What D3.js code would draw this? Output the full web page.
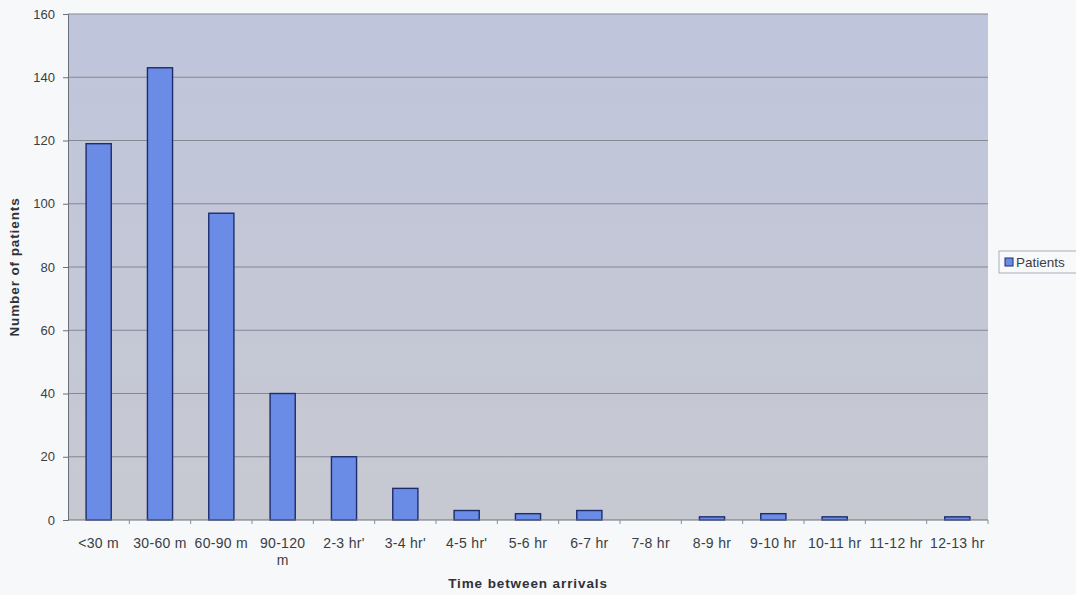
<!DOCTYPE html>
<html>
<head>
<meta charset="utf-8">
<script src="https://cdn.jsdelivr.net/npm/d3@7"></script>
<style>
  html, body { margin: 0; padding: 0; background: #f6f8fa; }
  svg { display: block; font-family: "Liberation Sans", Arial, sans-serif; }
</style>
</head>
<body>
<svg id="chart" width="1076" height="595"></svg>
<script>
// Inter-arrival times and patient counts
const categories = ["<30 m", "30-60 m", "60-90 m", "90-120 m", "2-3 hr'", "3-4 hr'", "4-5 hr'",
  "5-6 hr", "6-7 hr", "7-8 hr", "8-9 hr", "9-10 hr", "10-11 hr", "11-12 hr", "12-13 hr"];
const patients = [119, 143, 97, 40, 20, 10, 3, 2, 3, 0, 1, 2, 1, 0, 1];
const yTicks = [0, 20, 40, 60, 80, 100, 120, 140, 160];
const seriesName = "Patients";
const xTitle = "Time between arrivals";
const yTitle = "Number of patients";

const svg = d3.select("#chart");
const plot = { left: 68, top: 14, right: 988, bottom: 520 };

const x = d3.scaleBand().domain(categories).range([plot.left, plot.right]).padding(0);
const y = d3.scaleLinear().domain([0, 160]).range([plot.bottom, plot.top]);

// plot-area fill
const defs = svg.append("defs");
const grad = defs.append("linearGradient").attr("id", "plotBg")
  .attr("x1", 0).attr("y1", 0).attr("x2", 0).attr("y2", 1);
grad.append("stop").attr("offset", "0%").attr("stop-color", "#bfc5dc");
grad.append("stop").attr("offset", "100%").attr("stop-color", "#c7c9d1");

svg.append("rect")
  .attr("x", plot.left).attr("y", plot.top)
  .attr("width", plot.right - plot.left).attr("height", plot.bottom - plot.top)
  .attr("fill", "url(#plotBg)");

// horizontal gridlines
svg.append("g").selectAll("line").data(yTicks.filter(d => d > 0)).join("line")
  .attr("x1", plot.left).attr("x2", plot.right)
  .attr("y1", d => y(d)).attr("y2", d => y(d))
  .attr("stroke", "#858995").attr("stroke-width", 1);

// y axis
const yAxis = svg.append("g")
  .attr("transform", `translate(${plot.left},0)`)
  .call(d3.axisLeft(y).tickValues(yTicks).tickSize(5).tickPadding(8));
yAxis.select(".domain").attr("stroke", "#6b6f78");
yAxis.selectAll(".tick line").attr("stroke", "#6b6f78");
yAxis.selectAll("text").attr("font-size", 13).attr("fill", "#3a3d44")
  .attr("font-family", "'Liberation Sans', Arial, sans-serif");

// bars
const barW = x.bandwidth() * 0.41;
svg.append("g").selectAll("rect").data(categories).join("rect")
  .attr("x", (d) => x(d) + (x.bandwidth() - barW) / 2)
  .attr("y", (d, i) => y(patients[i]))
  .attr("width", barW)
  .attr("height", (d, i) => y(0) - y(patients[i]))
  .attr("fill", "#6a8ce6")
  .attr("stroke", "#1e2c6c")
  .attr("stroke-width", 1.4);

// x axis with ticks between categories
const xAxisG = svg.append("g").attr("transform", `translate(0,${plot.bottom})`);
xAxisG.append("line").attr("x1", plot.left).attr("x2", plot.right)
  .attr("stroke", "#6b6f78").attr("stroke-width", 1);
xAxisG.selectAll("line.tk").data(categories.slice(1).concat(["__end"])).join("line")
  .attr("class", "tk")
  .attr("x1", (d, i) => plot.left + x.step() * (i + 1))
  .attr("x2", (d, i) => plot.left + x.step() * (i + 1))
  .attr("y1", 0).attr("y2", 4)
  .attr("stroke", "#8a8e98");

// category labels, wrapped when wider than the space allows
const labels = xAxisG.selectAll("text.cat").data(categories).join("text")
  .attr("class", "cat")
  .attr("x", d => x(d) + x.bandwidth() / 2)
  .attr("y", 28)
  .attr("text-anchor", "middle")
  .attr("font-size", 14)
  .attr("letter-spacing", 0.3)
  .attr("fill", "#3a3d44");
labels.each(function(d) {
  const t = d3.select(this);
  t.text(d);
  if (this.getComputedTextLength() > 58 && d.includes(" ")) {
    const parts = d.split(" ");
    const last = parts.pop();
    t.text(null);
    t.append("tspan").attr("x", t.attr("x")).attr("dy", 0).text(parts.join(" "));
    t.append("tspan").attr("x", t.attr("x")).attr("dy", 17).text(last);
  }
});

// axis titles
svg.append("text")
  .attr("x", (plot.left + plot.right) / 2).attr("y", 588)
  .attr("text-anchor", "middle")
  .attr("font-size", 13.5).attr("font-weight", "bold")
  .attr("letter-spacing", 0.9)
  .attr("fill", "#2f3238")
  .text(xTitle);

svg.append("text")
  .attr("transform", `translate(19,${(plot.top + plot.bottom) / 2}) rotate(-90)`)
  .attr("text-anchor", "middle")
  .attr("font-size", 13.5).attr("font-weight", "bold")
  .attr("letter-spacing", 0.9)
  .attr("fill", "#2f3238")
  .text(yTitle);

// legend
const lg = svg.append("g").attr("transform", "translate(999,251)");
lg.append("rect").attr("width", 80).attr("height", 22)
  .attr("fill", "#f7f9fb").attr("stroke", "#a9adb6").attr("stroke-width", 1);
lg.append("rect").attr("x", 6).attr("y", 7).attr("width", 8).attr("height", 8)
  .attr("fill", "#6a8ce6").attr("stroke", "#1e2c6c").attr("stroke-width", 1);
lg.append("text").attr("x", 17).attr("y", 16)
  .attr("font-size", 13.5).attr("fill", "#3a3d44")
  .text(seriesName);
</script>
</body>
</html>
